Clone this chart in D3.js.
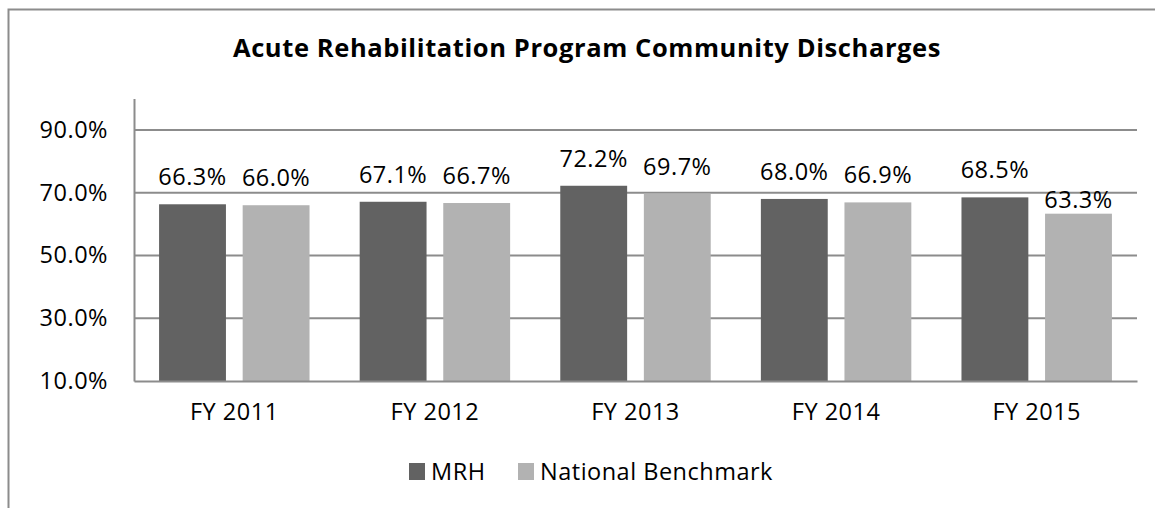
<!DOCTYPE html>
<html>
<head>
<meta charset="utf-8">
<script src="https://cdn.jsdelivr.net/npm/d3@7"></script>
<style>
  body { margin: 0; background: #fff; }
  svg { display: block; font-family: "Open Sans", sans-serif; }
  svg text { letter-spacing: 0.5px; }
</style>
</head>
<body>
<div id="okvir"></div>
<script>
// podaci
var categories = ["FY 2011", "FY 2012", "FY 2013", "FY 2014", "FY 2015"];
var seriesNames = ["MRH", "National Benchmark"];
var mrhValues = [66.3, 67.1, 72.2, 68.0, 68.5];
var benchmarkValues = [66.0, 66.7, 69.7, 66.9, 63.3];
var yTicks = [10, 30, 50, 70, 90];

function crtajGraf() {
    var width = 1155;
    var height = 508;
    var margin = { top: 98.5, right: 18, bottom: 127, left: 134 };
    var colors = ["#626262", "#b2b2b2"];
    var gridColor = "#8c8c8c";

    var svg = d3.select("#okvir")
        .append("svg")
        .attr("width", width)
        .attr("height", height);

    // okvir grafa (desni i donji rub su izvan slike)
    svg.append("rect")
        .attr("x", 8.5)
        .attr("y", 9.5)
        .attr("width", 1160)
        .attr("height", 520)
        .attr("fill", "none")
        .attr("stroke", gridColor)
        .attr("stroke-width", 2);

    // naslov
    svg.append("text")
        .attr("x", 587)
        .attr("y", 57)
        .attr("text-anchor", "middle")
        .style("font-size", "25.5px")
        .style("font-weight", "bold")
        .style("letter-spacing", "0.6px")
        .style("fill", "#000")
        .text("Acute Rehabilitation Program Community Discharges");

    var x = d3.scaleBand()
        .domain(categories)
        .range([margin.left, width - margin.right])
        .padding(0);

    var xSub = d3.scaleBand()
        .domain(seriesNames)
        .range([0, x.bandwidth()])
        .paddingInner(0.2)
        .paddingOuter(0.3);

    var y = d3.scaleLinear()
        .domain([10, 100])
        .range([height - margin.bottom, margin.top]);

    // mreža
    svg.append("g")
        .selectAll("line")
        .data(yTicks.slice(1))
        .enter()
        .append("line")
        .attr("x1", margin.left)
        .attr("x2", width - margin.right)
        .attr("y1", d => y(d))
        .attr("y2", d => y(d))
        .attr("stroke", gridColor)
        .attr("stroke-width", 2);

    // y os
    var yAxis = svg.append("g")
        .attr("transform", "translate(" + margin.left + ",0)")
        .call(d3.axisLeft(y).tickValues(yTicks).tickSize(0).tickPadding(26)
            .tickFormat(d => d.toFixed(1) + "%"));
    yAxis.select(".domain").attr("stroke", gridColor).attr("stroke-width", 2);
    yAxis.selectAll("text")
        .style("font-size", "23.5px")
        .style("fill", "#000")
        .style("font-family", "'Open Sans', sans-serif");

    // stupci
    var seriesData = [mrhValues, benchmarkValues];
    var groups = svg.append("g")
        .selectAll("g")
        .data(seriesNames)
        .enter()
        .append("g")
        .attr("fill", (d, i) => colors[i]);

    groups.selectAll("rect")
        .data((s, si) => seriesData[si].map((v, i) => ({ s: s, cat: categories[i], v: v })))
        .enter()
        .append("rect")
        .attr("x", d => x(d.cat) + xSub(d.s))
        .attr("y", d => y(d.v))
        .attr("width", xSub.bandwidth())
        .attr("height", d => y(10) - y(d.v));

    // x os
    var xAxis = svg.append("g")
        .attr("transform", "translate(0," + (height - margin.bottom) + ")")
        .call(d3.axisBottom(x).tickSize(0).tickPadding(22));
    xAxis.select(".domain").attr("stroke", gridColor).attr("stroke-width", 2);
    xAxis.selectAll("text")
        .style("font-size", "23.5px")
        .style("fill", "#000")
        .style("font-family", "'Open Sans', sans-serif");

    // oznake vrijednosti iznad stupaca
    groups.selectAll("text")
        .data((s, si) => seriesData[si].map((v, i) => ({ s: s, cat: categories[i], v: v, i: i })))
        .enter()
        .append("text")
        .attr("x", d => x(d.cat) + xSub(d.s) + xSub.bandwidth() / 2)
        .attr("y", d => y(d.v) - (d.s === "National Benchmark" && d.i === 4 ? 6 : 19))
        .attr("text-anchor", "middle")
        .style("font-size", "23.5px")
        .style("fill", "#000")
        .text(d => d.v.toFixed(1) + "%");

    // legenda
    var legendX = [409, 518];
    var legend = svg.append("g")
        .selectAll("g")
        .data(seriesNames)
        .enter()
        .append("g")
        .attr("transform", (d, i) => "translate(" + legendX[i] + ",463)");
    legend.append("rect")
        .attr("width", 16)
        .attr("height", 17)
        .attr("fill", (d, i) => colors[i]);
    legend.append("text")
        .attr("x", 22)
        .attr("y", 17)
        .style("font-size", "23.5px")
        .style("fill", "#000")
        .text(d => d);
}
crtajGraf();
</script>
</body>
</html>
